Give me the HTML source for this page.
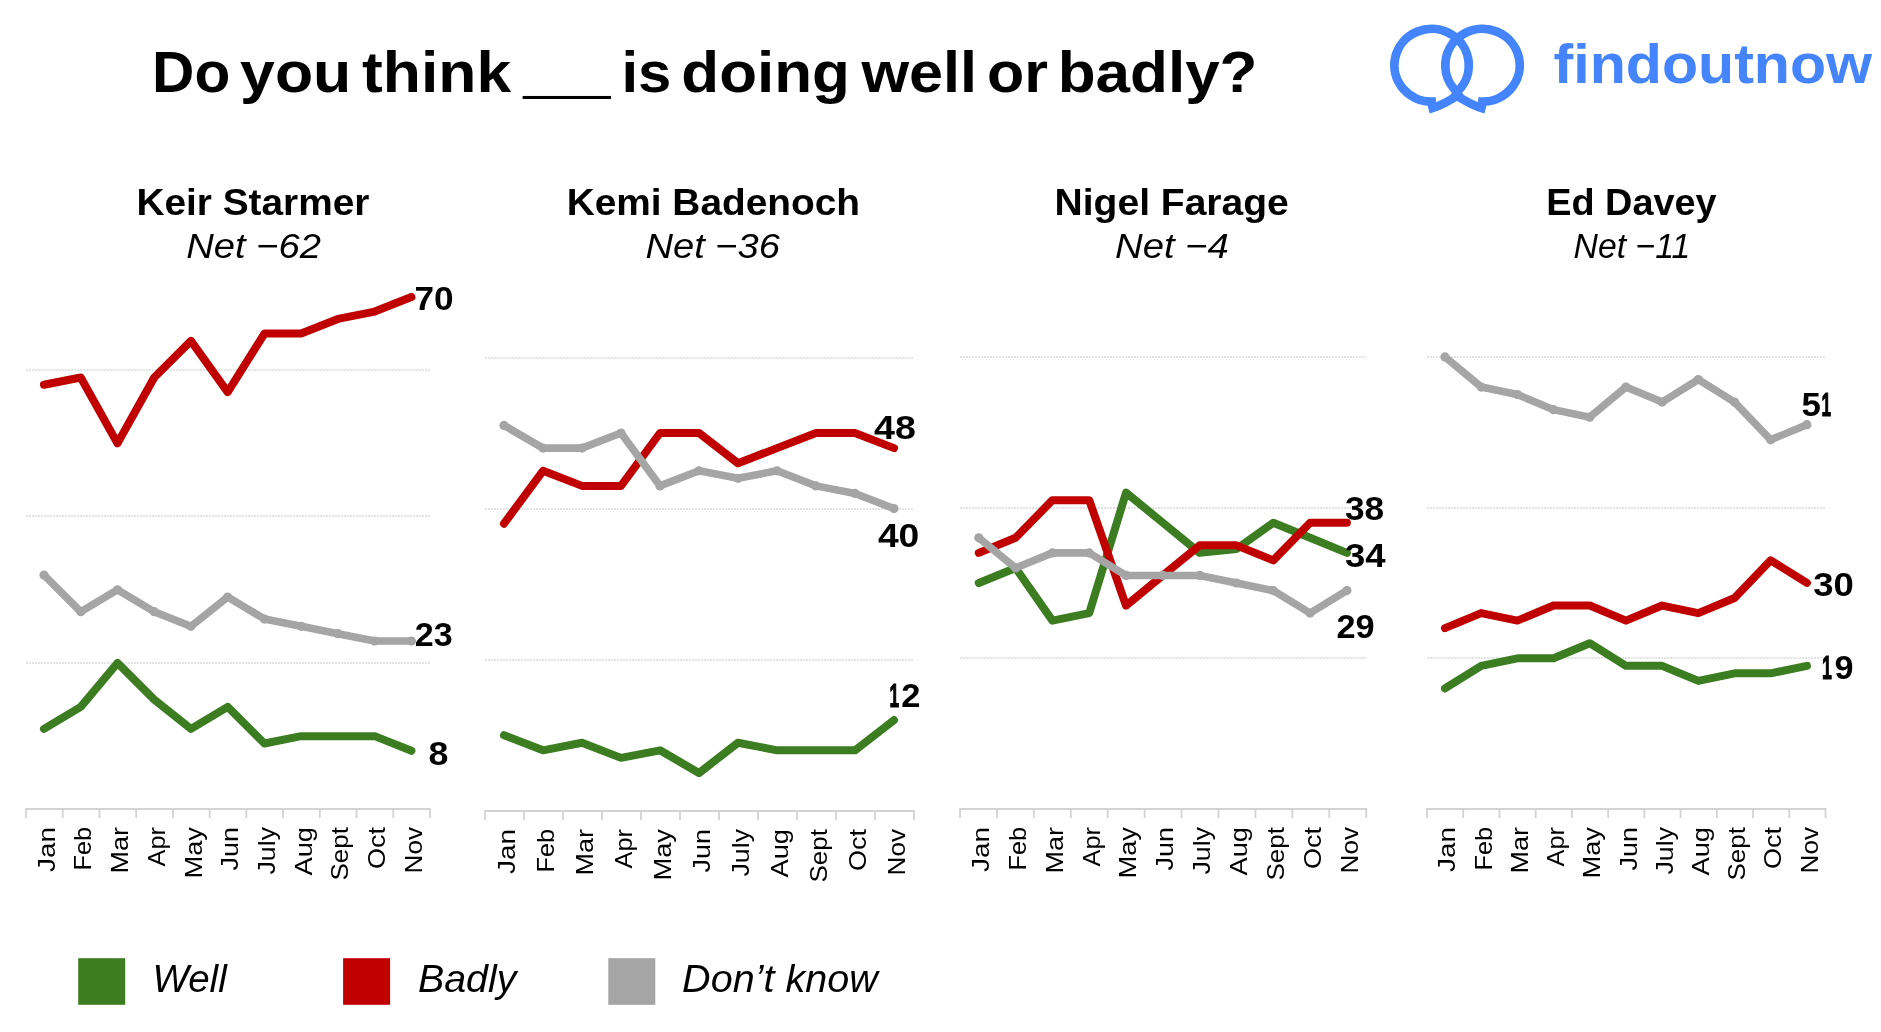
<!DOCTYPE html>
<html><head><meta charset="utf-8"><title>Do you think ___ is doing well or badly?</title>
<style>html,body{margin:0;padding:0;background:#fff;overflow:hidden}svg{display:block;will-change:transform}</style>
</head><body>
<svg width="1881" height="1032" viewBox="0 0 1881 1032" font-family='"Liberation Sans", Arial, sans-serif'><text x="152.10" y="91.70" font-size="57" font-weight="bold" font-style="normal" fill="#000" textLength="78.20" lengthAdjust="spacingAndGlyphs">Do</text>
<text x="240.10" y="91.70" font-size="57" font-weight="bold" font-style="normal" fill="#000" textLength="111.20" lengthAdjust="spacingAndGlyphs">you</text>
<text x="362.00" y="91.70" font-size="57" font-weight="bold" font-style="normal" fill="#000" textLength="149.10" lengthAdjust="spacingAndGlyphs">think</text>
<text x="621.50" y="91.70" font-size="57" font-weight="bold" font-style="normal" fill="#000" textLength="49.90" lengthAdjust="spacingAndGlyphs">is</text>
<text x="681.30" y="91.70" font-size="57" font-weight="bold" font-style="normal" fill="#000" textLength="168.60" lengthAdjust="spacingAndGlyphs">doing</text>
<text x="861.50" y="91.70" font-size="57" font-weight="bold" font-style="normal" fill="#000" textLength="115.60" lengthAdjust="spacingAndGlyphs">well</text>
<text x="987.10" y="91.70" font-size="57" font-weight="bold" font-style="normal" fill="#000" textLength="61.00" lengthAdjust="spacingAndGlyphs">or</text>
<text x="1057.70" y="91.70" font-size="57" font-weight="bold" font-style="normal" fill="#000" textLength="199.80" lengthAdjust="spacingAndGlyphs">badly?</text>
<text x="523.10" y="88.60" font-size="79" font-weight="bold" font-style="normal" fill="#000" textLength="87.50" lengthAdjust="spacingAndGlyphs">____</text>
<path d="M1436.13,101.43 A37.2,36.4 0 1 1 1454.50,93.98" fill="none" stroke="#4485FD" stroke-width="8.8"/>
<path d="M1477.97,101.43 A37.2,36.4 0 1 0 1459.60,93.98" fill="none" stroke="#4485FD" stroke-width="8.8"/>
<path d="M1428.55,109.35 Q1443.75,105.30 1462.00,92.50" fill="none" stroke="#4485FD" stroke-width="8.8"/>
<path d="M1485.55,109.35 Q1470.35,105.30 1452.10,92.50" fill="none" stroke="#4485FD" stroke-width="8.8"/>
<text x="1553.50" y="83.30" font-size="56" font-weight="bold" font-style="normal" fill="#4485FD" textLength="318.60" lengthAdjust="spacingAndGlyphs">findoutnow</text>
<text x="136.40" y="215.20" font-size="37" font-weight="bold" font-style="normal" fill="#000" textLength="233.00" lengthAdjust="spacingAndGlyphs">Keir Starmer</text>
<text x="186.20" y="257.70" font-size="35.5" font-weight="normal" font-style="italic" fill="#000" textLength="134.80" lengthAdjust="spacingAndGlyphs">Net −62</text>
<text x="566.70" y="215.00" font-size="37" font-weight="bold" font-style="normal" fill="#000" textLength="293.30" lengthAdjust="spacingAndGlyphs">Kemi Badenoch</text>
<text x="645.50" y="257.50" font-size="35.5" font-weight="normal" font-style="italic" fill="#000" textLength="134.50" lengthAdjust="spacingAndGlyphs">Net −36</text>
<text x="1054.60" y="214.90" font-size="37" font-weight="bold" font-style="normal" fill="#000" textLength="234.20" lengthAdjust="spacingAndGlyphs">Nigel Farage</text>
<text x="1115.00" y="258.00" font-size="35.5" font-weight="normal" font-style="italic" fill="#000" textLength="113.90" lengthAdjust="spacingAndGlyphs">Net −4</text>
<text x="1546.20" y="214.90" font-size="37" font-weight="bold" font-style="normal" fill="#000" textLength="170.50" lengthAdjust="spacingAndGlyphs">Ed Davey</text>
<text x="1573.60" y="257.80" font-size="35.5" font-weight="normal" font-style="italic" fill="#000" textLength="116.60" lengthAdjust="spacingAndGlyphs">Net −11</text>
<g><line x1="26" y1="370" x2="430" y2="370" stroke="#E3E3E3" stroke-width="2" stroke-dasharray="2 1"/><line x1="26" y1="516" x2="430" y2="516" stroke="#E3E3E3" stroke-width="2" stroke-dasharray="2 1"/><line x1="26" y1="663" x2="430" y2="663" stroke="#E3E3E3" stroke-width="2" stroke-dasharray="2 1"/><line x1="26" y1="809" x2="430" y2="809" stroke="#D3D3D3" stroke-width="2"/><line x1="26.00" y1="808" x2="26.00" y2="818" stroke="#D3D3D3" stroke-width="1.8"/><line x1="62.73" y1="808" x2="62.73" y2="818" stroke="#D3D3D3" stroke-width="1.8"/><line x1="99.45" y1="808" x2="99.45" y2="818" stroke="#D3D3D3" stroke-width="1.8"/><line x1="136.18" y1="808" x2="136.18" y2="818" stroke="#D3D3D3" stroke-width="1.8"/><line x1="172.91" y1="808" x2="172.91" y2="818" stroke="#D3D3D3" stroke-width="1.8"/><line x1="209.64" y1="808" x2="209.64" y2="818" stroke="#D3D3D3" stroke-width="1.8"/><line x1="246.36" y1="808" x2="246.36" y2="818" stroke="#D3D3D3" stroke-width="1.8"/><line x1="283.09" y1="808" x2="283.09" y2="818" stroke="#D3D3D3" stroke-width="1.8"/><line x1="319.82" y1="808" x2="319.82" y2="818" stroke="#D3D3D3" stroke-width="1.8"/><line x1="356.55" y1="808" x2="356.55" y2="818" stroke="#D3D3D3" stroke-width="1.8"/><line x1="393.27" y1="808" x2="393.27" y2="818" stroke="#D3D3D3" stroke-width="1.8"/><line x1="430.00" y1="808" x2="430.00" y2="818" stroke="#D3D3D3" stroke-width="1.8"/><polyline fill="none" stroke="#3C7D22" stroke-width="8" stroke-linejoin="round" stroke-linecap="round" points="44.00,728.83 80.74,706.87 117.48,662.95 154.22,699.55 190.96,728.83 227.70,706.87 264.44,743.47 301.18,736.15 337.92,736.15 374.66,736.15 411.40,750.79"/><polyline fill="none" stroke="#C00000" stroke-width="8" stroke-linejoin="round" stroke-linecap="round" points="44.00,384.79 80.74,377.47 117.48,443.35 154.22,377.47 190.96,340.87 227.70,392.11 264.44,333.55 301.18,333.55 337.92,318.91 374.66,311.59 411.40,296.95"/><polyline fill="none" stroke="#A5A5A5" stroke-width="7.6" stroke-linejoin="round" stroke-linecap="round" points="44.00,575.11 80.74,611.71 117.48,589.75 154.22,611.71 190.96,626.35 227.70,597.07 264.44,619.03 301.18,626.35 337.92,633.67 374.66,640.99 411.40,640.99"/><circle cx="44.00" cy="575.11" r="4.6" fill="#A5A5A5"/><circle cx="80.74" cy="611.71" r="4.6" fill="#A5A5A5"/><circle cx="117.48" cy="589.75" r="4.6" fill="#A5A5A5"/><circle cx="154.22" cy="611.71" r="4.6" fill="#A5A5A5"/><circle cx="190.96" cy="626.35" r="4.6" fill="#A5A5A5"/><circle cx="227.70" cy="597.07" r="4.6" fill="#A5A5A5"/><circle cx="264.44" cy="619.03" r="4.6" fill="#A5A5A5"/><circle cx="301.18" cy="626.35" r="4.6" fill="#A5A5A5"/><circle cx="337.92" cy="633.67" r="4.6" fill="#A5A5A5"/><circle cx="374.66" cy="640.99" r="4.6" fill="#A5A5A5"/><circle cx="411.40" cy="640.99" r="4.6" fill="#A5A5A5"/><text x="0" y="0" transform="translate(54.66,827.00) rotate(-90)" text-anchor="end" font-size="24.5" textLength="45.00" lengthAdjust="spacingAndGlyphs">Jan</text><text x="0" y="0" transform="translate(91.39,827.00) rotate(-90)" text-anchor="end" font-size="24.5" textLength="43.50" lengthAdjust="spacingAndGlyphs">Feb</text><text x="0" y="0" transform="translate(128.12,827.00) rotate(-90)" text-anchor="end" font-size="24.5" textLength="46.50" lengthAdjust="spacingAndGlyphs">Mar</text><text x="0" y="0" transform="translate(164.85,827.00) rotate(-90)" text-anchor="end" font-size="24.5" textLength="39.50" lengthAdjust="spacingAndGlyphs">Apr</text><text x="0" y="0" transform="translate(201.57,827.00) rotate(-90)" text-anchor="end" font-size="24.5" textLength="51.50" lengthAdjust="spacingAndGlyphs">May</text><text x="0" y="0" transform="translate(238.30,827.00) rotate(-90)" text-anchor="end" font-size="24.5" textLength="43.50" lengthAdjust="spacingAndGlyphs">Jun</text><text x="0" y="0" transform="translate(275.03,827.00) rotate(-90)" text-anchor="end" font-size="24.5" textLength="47.50" lengthAdjust="spacingAndGlyphs">July</text><text x="0" y="0" transform="translate(311.75,827.00) rotate(-90)" text-anchor="end" font-size="24.5" textLength="48.50" lengthAdjust="spacingAndGlyphs">Aug</text><text x="0" y="0" transform="translate(348.48,827.00) rotate(-90)" text-anchor="end" font-size="24.5" textLength="53.50" lengthAdjust="spacingAndGlyphs">Sept</text><text x="0" y="0" transform="translate(385.21,827.00) rotate(-90)" text-anchor="end" font-size="24.5" textLength="42.00" lengthAdjust="spacingAndGlyphs">Oct</text><text x="0" y="0" transform="translate(421.94,827.00) rotate(-90)" text-anchor="end" font-size="24.5" textLength="46.50" lengthAdjust="spacingAndGlyphs">Nov</text></g>
<g><line x1="485" y1="358" x2="913" y2="358" stroke="#E3E3E3" stroke-width="2" stroke-dasharray="2 1"/><line x1="485" y1="509" x2="913" y2="509" stroke="#E3E3E3" stroke-width="2" stroke-dasharray="2 1"/><line x1="485" y1="660" x2="913" y2="660" stroke="#E3E3E3" stroke-width="2" stroke-dasharray="2 1"/><line x1="485" y1="811" x2="914" y2="811" stroke="#D3D3D3" stroke-width="2"/><line x1="485.00" y1="810" x2="485.00" y2="820" stroke="#D3D3D3" stroke-width="1.8"/><line x1="524.00" y1="810" x2="524.00" y2="820" stroke="#D3D3D3" stroke-width="1.8"/><line x1="563.00" y1="810" x2="563.00" y2="820" stroke="#D3D3D3" stroke-width="1.8"/><line x1="602.00" y1="810" x2="602.00" y2="820" stroke="#D3D3D3" stroke-width="1.8"/><line x1="641.00" y1="810" x2="641.00" y2="820" stroke="#D3D3D3" stroke-width="1.8"/><line x1="680.00" y1="810" x2="680.00" y2="820" stroke="#D3D3D3" stroke-width="1.8"/><line x1="719.00" y1="810" x2="719.00" y2="820" stroke="#D3D3D3" stroke-width="1.8"/><line x1="758.00" y1="810" x2="758.00" y2="820" stroke="#D3D3D3" stroke-width="1.8"/><line x1="797.00" y1="810" x2="797.00" y2="820" stroke="#D3D3D3" stroke-width="1.8"/><line x1="836.00" y1="810" x2="836.00" y2="820" stroke="#D3D3D3" stroke-width="1.8"/><line x1="875.00" y1="810" x2="875.00" y2="820" stroke="#D3D3D3" stroke-width="1.8"/><line x1="914.00" y1="810" x2="914.00" y2="820" stroke="#D3D3D3" stroke-width="1.8"/><polyline fill="none" stroke="#3C7D22" stroke-width="8" stroke-linejoin="round" stroke-linecap="round" points="504.00,735.20 543.00,750.31 582.00,742.75 621.00,757.87 660.00,750.31 699.00,772.98 738.00,742.75 777.00,750.31 816.00,750.31 855.00,750.31 894.00,720.09"/><polyline fill="none" stroke="#C00000" stroke-width="8" stroke-linejoin="round" stroke-linecap="round" points="504.00,523.66 543.00,470.78 582.00,485.88 621.00,485.88 660.00,433.00 699.00,433.00 738.00,463.22 777.00,448.11 816.00,433.00 855.00,433.00 894.00,448.11"/><polyline fill="none" stroke="#A5A5A5" stroke-width="7.6" stroke-linejoin="round" stroke-linecap="round" points="504.00,425.44 543.00,448.11 582.00,448.11 621.00,433.00 660.00,485.88 699.00,470.78 738.00,478.33 777.00,470.78 816.00,485.88 855.00,493.44 894.00,508.55"/><circle cx="504.00" cy="425.44" r="4.6" fill="#A5A5A5"/><circle cx="543.00" cy="448.11" r="4.6" fill="#A5A5A5"/><circle cx="582.00" cy="448.11" r="4.6" fill="#A5A5A5"/><circle cx="621.00" cy="433.00" r="4.6" fill="#A5A5A5"/><circle cx="660.00" cy="485.88" r="4.6" fill="#A5A5A5"/><circle cx="699.00" cy="470.78" r="4.6" fill="#A5A5A5"/><circle cx="738.00" cy="478.33" r="4.6" fill="#A5A5A5"/><circle cx="777.00" cy="470.78" r="4.6" fill="#A5A5A5"/><circle cx="816.00" cy="485.88" r="4.6" fill="#A5A5A5"/><circle cx="855.00" cy="493.44" r="4.6" fill="#A5A5A5"/><circle cx="894.00" cy="508.55" r="4.6" fill="#A5A5A5"/><text x="0" y="0" transform="translate(514.80,829.00) rotate(-90)" text-anchor="end" font-size="24.5" textLength="45.00" lengthAdjust="spacingAndGlyphs">Jan</text><text x="0" y="0" transform="translate(553.80,829.00) rotate(-90)" text-anchor="end" font-size="24.5" textLength="43.50" lengthAdjust="spacingAndGlyphs">Feb</text><text x="0" y="0" transform="translate(592.80,829.00) rotate(-90)" text-anchor="end" font-size="24.5" textLength="46.50" lengthAdjust="spacingAndGlyphs">Mar</text><text x="0" y="0" transform="translate(631.80,829.00) rotate(-90)" text-anchor="end" font-size="24.5" textLength="39.50" lengthAdjust="spacingAndGlyphs">Apr</text><text x="0" y="0" transform="translate(670.80,829.00) rotate(-90)" text-anchor="end" font-size="24.5" textLength="51.50" lengthAdjust="spacingAndGlyphs">May</text><text x="0" y="0" transform="translate(709.80,829.00) rotate(-90)" text-anchor="end" font-size="24.5" textLength="43.50" lengthAdjust="spacingAndGlyphs">Jun</text><text x="0" y="0" transform="translate(748.80,829.00) rotate(-90)" text-anchor="end" font-size="24.5" textLength="47.50" lengthAdjust="spacingAndGlyphs">July</text><text x="0" y="0" transform="translate(787.80,829.00) rotate(-90)" text-anchor="end" font-size="24.5" textLength="48.50" lengthAdjust="spacingAndGlyphs">Aug</text><text x="0" y="0" transform="translate(826.80,829.00) rotate(-90)" text-anchor="end" font-size="24.5" textLength="53.50" lengthAdjust="spacingAndGlyphs">Sept</text><text x="0" y="0" transform="translate(865.80,829.00) rotate(-90)" text-anchor="end" font-size="24.5" textLength="42.00" lengthAdjust="spacingAndGlyphs">Oct</text><text x="0" y="0" transform="translate(904.80,829.00) rotate(-90)" text-anchor="end" font-size="24.5" textLength="46.50" lengthAdjust="spacingAndGlyphs">Nov</text></g>
<g><line x1="960" y1="357" x2="1366" y2="357" stroke="#E3E3E3" stroke-width="2" stroke-dasharray="2 1"/><line x1="960" y1="508" x2="1366" y2="508" stroke="#E3E3E3" stroke-width="2" stroke-dasharray="2 1"/><line x1="960" y1="658" x2="1366" y2="658" stroke="#E3E3E3" stroke-width="2" stroke-dasharray="2 1"/><line x1="960" y1="809" x2="1366.2" y2="809" stroke="#D3D3D3" stroke-width="2"/><line x1="960.00" y1="808" x2="960.00" y2="818" stroke="#D3D3D3" stroke-width="1.8"/><line x1="996.93" y1="808" x2="996.93" y2="818" stroke="#D3D3D3" stroke-width="1.8"/><line x1="1033.85" y1="808" x2="1033.85" y2="818" stroke="#D3D3D3" stroke-width="1.8"/><line x1="1070.78" y1="808" x2="1070.78" y2="818" stroke="#D3D3D3" stroke-width="1.8"/><line x1="1107.71" y1="808" x2="1107.71" y2="818" stroke="#D3D3D3" stroke-width="1.8"/><line x1="1144.64" y1="808" x2="1144.64" y2="818" stroke="#D3D3D3" stroke-width="1.8"/><line x1="1181.56" y1="808" x2="1181.56" y2="818" stroke="#D3D3D3" stroke-width="1.8"/><line x1="1218.49" y1="808" x2="1218.49" y2="818" stroke="#D3D3D3" stroke-width="1.8"/><line x1="1255.42" y1="808" x2="1255.42" y2="818" stroke="#D3D3D3" stroke-width="1.8"/><line x1="1292.35" y1="808" x2="1292.35" y2="818" stroke="#D3D3D3" stroke-width="1.8"/><line x1="1329.27" y1="808" x2="1329.27" y2="818" stroke="#D3D3D3" stroke-width="1.8"/><line x1="1366.20" y1="808" x2="1366.20" y2="818" stroke="#D3D3D3" stroke-width="1.8"/><polyline fill="none" stroke="#3C7D22" stroke-width="8" stroke-linejoin="round" stroke-linecap="round" points="978.80,583.00 1015.61,567.94 1052.42,620.65 1089.23,613.12 1126.04,492.64 1162.85,522.76 1199.66,552.88 1236.47,549.12 1273.28,522.76 1310.09,537.82 1346.90,552.88"/><polyline fill="none" stroke="#C00000" stroke-width="8" stroke-linejoin="round" stroke-linecap="round" points="978.80,552.88 1015.61,537.82 1052.42,500.17 1089.23,500.17 1126.04,605.59 1162.85,575.47 1199.66,545.35 1236.47,545.35 1273.28,560.41 1310.09,522.76 1346.90,522.76"/><polyline fill="none" stroke="#A5A5A5" stroke-width="7.6" stroke-linejoin="round" stroke-linecap="round" points="978.80,537.82 1015.61,567.94 1052.42,552.88 1089.23,552.88 1126.04,575.47 1162.85,575.47 1199.66,575.47 1236.47,583.00 1273.28,590.53 1310.09,613.12 1346.90,590.53"/><circle cx="978.80" cy="537.82" r="4.6" fill="#A5A5A5"/><circle cx="1015.61" cy="567.94" r="4.6" fill="#A5A5A5"/><circle cx="1052.42" cy="552.88" r="4.6" fill="#A5A5A5"/><circle cx="1089.23" cy="552.88" r="4.6" fill="#A5A5A5"/><circle cx="1126.04" cy="575.47" r="4.6" fill="#A5A5A5"/><circle cx="1162.85" cy="575.47" r="4.6" fill="#A5A5A5"/><circle cx="1199.66" cy="575.47" r="4.6" fill="#A5A5A5"/><circle cx="1236.47" cy="583.00" r="4.6" fill="#A5A5A5"/><circle cx="1273.28" cy="590.53" r="4.6" fill="#A5A5A5"/><circle cx="1310.09" cy="613.12" r="4.6" fill="#A5A5A5"/><circle cx="1346.90" cy="590.53" r="4.6" fill="#A5A5A5"/><text x="0" y="0" transform="translate(988.76,827.00) rotate(-90)" text-anchor="end" font-size="24.5" textLength="45.00" lengthAdjust="spacingAndGlyphs">Jan</text><text x="0" y="0" transform="translate(1025.69,827.00) rotate(-90)" text-anchor="end" font-size="24.5" textLength="43.50" lengthAdjust="spacingAndGlyphs">Feb</text><text x="0" y="0" transform="translate(1062.62,827.00) rotate(-90)" text-anchor="end" font-size="24.5" textLength="46.50" lengthAdjust="spacingAndGlyphs">Mar</text><text x="0" y="0" transform="translate(1099.55,827.00) rotate(-90)" text-anchor="end" font-size="24.5" textLength="39.50" lengthAdjust="spacingAndGlyphs">Apr</text><text x="0" y="0" transform="translate(1136.47,827.00) rotate(-90)" text-anchor="end" font-size="24.5" textLength="51.50" lengthAdjust="spacingAndGlyphs">May</text><text x="0" y="0" transform="translate(1173.40,827.00) rotate(-90)" text-anchor="end" font-size="24.5" textLength="43.50" lengthAdjust="spacingAndGlyphs">Jun</text><text x="0" y="0" transform="translate(1210.33,827.00) rotate(-90)" text-anchor="end" font-size="24.5" textLength="47.50" lengthAdjust="spacingAndGlyphs">July</text><text x="0" y="0" transform="translate(1247.25,827.00) rotate(-90)" text-anchor="end" font-size="24.5" textLength="48.50" lengthAdjust="spacingAndGlyphs">Aug</text><text x="0" y="0" transform="translate(1284.18,827.00) rotate(-90)" text-anchor="end" font-size="24.5" textLength="53.50" lengthAdjust="spacingAndGlyphs">Sept</text><text x="0" y="0" transform="translate(1321.11,827.00) rotate(-90)" text-anchor="end" font-size="24.5" textLength="42.00" lengthAdjust="spacingAndGlyphs">Oct</text><text x="0" y="0" transform="translate(1358.04,827.00) rotate(-90)" text-anchor="end" font-size="24.5" textLength="46.50" lengthAdjust="spacingAndGlyphs">Nov</text></g>
<g><line x1="1427" y1="357" x2="1825" y2="357" stroke="#E3E3E3" stroke-width="2" stroke-dasharray="2 1"/><line x1="1427" y1="508" x2="1825" y2="508" stroke="#E3E3E3" stroke-width="2" stroke-dasharray="2 1"/><line x1="1427" y1="658" x2="1825" y2="658" stroke="#E3E3E3" stroke-width="2" stroke-dasharray="2 1"/><line x1="1427" y1="809" x2="1825.5" y2="809" stroke="#D3D3D3" stroke-width="2"/><line x1="1427.00" y1="808" x2="1427.00" y2="818" stroke="#D3D3D3" stroke-width="1.8"/><line x1="1463.23" y1="808" x2="1463.23" y2="818" stroke="#D3D3D3" stroke-width="1.8"/><line x1="1499.45" y1="808" x2="1499.45" y2="818" stroke="#D3D3D3" stroke-width="1.8"/><line x1="1535.68" y1="808" x2="1535.68" y2="818" stroke="#D3D3D3" stroke-width="1.8"/><line x1="1571.91" y1="808" x2="1571.91" y2="818" stroke="#D3D3D3" stroke-width="1.8"/><line x1="1608.14" y1="808" x2="1608.14" y2="818" stroke="#D3D3D3" stroke-width="1.8"/><line x1="1644.36" y1="808" x2="1644.36" y2="818" stroke="#D3D3D3" stroke-width="1.8"/><line x1="1680.59" y1="808" x2="1680.59" y2="818" stroke="#D3D3D3" stroke-width="1.8"/><line x1="1716.82" y1="808" x2="1716.82" y2="818" stroke="#D3D3D3" stroke-width="1.8"/><line x1="1753.05" y1="808" x2="1753.05" y2="818" stroke="#D3D3D3" stroke-width="1.8"/><line x1="1789.27" y1="808" x2="1789.27" y2="818" stroke="#D3D3D3" stroke-width="1.8"/><line x1="1825.50" y1="808" x2="1825.50" y2="818" stroke="#D3D3D3" stroke-width="1.8"/><polyline fill="none" stroke="#3C7D22" stroke-width="8" stroke-linejoin="round" stroke-linecap="round" points="1445.00,688.44 1481.19,665.84 1517.38,658.30 1553.57,658.30 1589.76,643.23 1625.95,665.84 1662.14,665.84 1698.33,680.90 1734.52,673.37 1770.71,673.37 1806.90,665.84"/><polyline fill="none" stroke="#C00000" stroke-width="8" stroke-linejoin="round" stroke-linecap="round" points="1445.00,628.16 1481.19,613.09 1517.38,620.62 1553.57,605.56 1589.76,605.56 1625.95,620.62 1662.14,605.56 1698.33,613.09 1734.52,598.02 1770.71,560.35 1806.90,582.95"/><polyline fill="none" stroke="#A5A5A5" stroke-width="7.6" stroke-linejoin="round" stroke-linecap="round" points="1445.00,356.90 1481.19,387.04 1517.38,394.57 1553.57,409.64 1589.76,417.18 1625.95,387.04 1662.14,402.11 1698.33,379.50 1734.52,402.11 1770.71,439.78 1806.90,424.71"/><circle cx="1445.00" cy="356.90" r="4.6" fill="#A5A5A5"/><circle cx="1481.19" cy="387.04" r="4.6" fill="#A5A5A5"/><circle cx="1517.38" cy="394.57" r="4.6" fill="#A5A5A5"/><circle cx="1553.57" cy="409.64" r="4.6" fill="#A5A5A5"/><circle cx="1589.76" cy="417.18" r="4.6" fill="#A5A5A5"/><circle cx="1625.95" cy="387.04" r="4.6" fill="#A5A5A5"/><circle cx="1662.14" cy="402.11" r="4.6" fill="#A5A5A5"/><circle cx="1698.33" cy="379.50" r="4.6" fill="#A5A5A5"/><circle cx="1734.52" cy="402.11" r="4.6" fill="#A5A5A5"/><circle cx="1770.71" cy="439.78" r="4.6" fill="#A5A5A5"/><circle cx="1806.90" cy="424.71" r="4.6" fill="#A5A5A5"/><text x="0" y="0" transform="translate(1455.41,827.00) rotate(-90)" text-anchor="end" font-size="24.5" textLength="45.00" lengthAdjust="spacingAndGlyphs">Jan</text><text x="0" y="0" transform="translate(1491.64,827.00) rotate(-90)" text-anchor="end" font-size="24.5" textLength="43.50" lengthAdjust="spacingAndGlyphs">Feb</text><text x="0" y="0" transform="translate(1527.87,827.00) rotate(-90)" text-anchor="end" font-size="24.5" textLength="46.50" lengthAdjust="spacingAndGlyphs">Mar</text><text x="0" y="0" transform="translate(1564.10,827.00) rotate(-90)" text-anchor="end" font-size="24.5" textLength="39.50" lengthAdjust="spacingAndGlyphs">Apr</text><text x="0" y="0" transform="translate(1600.32,827.00) rotate(-90)" text-anchor="end" font-size="24.5" textLength="51.50" lengthAdjust="spacingAndGlyphs">May</text><text x="0" y="0" transform="translate(1636.55,827.00) rotate(-90)" text-anchor="end" font-size="24.5" textLength="43.50" lengthAdjust="spacingAndGlyphs">Jun</text><text x="0" y="0" transform="translate(1672.78,827.00) rotate(-90)" text-anchor="end" font-size="24.5" textLength="47.50" lengthAdjust="spacingAndGlyphs">July</text><text x="0" y="0" transform="translate(1709.00,827.00) rotate(-90)" text-anchor="end" font-size="24.5" textLength="48.50" lengthAdjust="spacingAndGlyphs">Aug</text><text x="0" y="0" transform="translate(1745.23,827.00) rotate(-90)" text-anchor="end" font-size="24.5" textLength="53.50" lengthAdjust="spacingAndGlyphs">Sept</text><text x="0" y="0" transform="translate(1781.46,827.00) rotate(-90)" text-anchor="end" font-size="24.5" textLength="42.00" lengthAdjust="spacingAndGlyphs">Oct</text><text x="0" y="0" transform="translate(1817.69,827.00) rotate(-90)" text-anchor="end" font-size="24.5" textLength="46.50" lengthAdjust="spacingAndGlyphs">Nov</text></g>
<text x="414.40" y="310.00" font-size="33.8" font-weight="bold" font-style="normal" fill="#000" textLength="39.10" lengthAdjust="spacingAndGlyphs">70</text>
<text x="414.70" y="645.90" font-size="33.8" font-weight="bold" font-style="normal" fill="#000" textLength="37.90" lengthAdjust="spacingAndGlyphs">23</text>
<text x="428.60" y="764.90" font-size="33.8" font-weight="bold" font-style="normal" fill="#000" textLength="19.90" lengthAdjust="spacingAndGlyphs">8</text>
<text x="874.10" y="439.10" font-size="33.8" font-weight="bold" font-style="normal" fill="#000" textLength="41.80" lengthAdjust="spacingAndGlyphs">48</text>
<text x="877.90" y="547.30" font-size="33.8" font-weight="bold" font-style="normal" fill="#000" textLength="41.40" lengthAdjust="spacingAndGlyphs">40</text>
<text y="707.00" font-size="33.8" font-weight="bold" fill="#000"><tspan x="889.60" textLength="9.60" lengthAdjust="spacingAndGlyphs" stroke="#000" stroke-width="1.2" stroke-linejoin="miter">1</tspan><tspan x="901.20" textLength="19.20" lengthAdjust="spacingAndGlyphs">2</tspan></text>
<text x="1345.00" y="520.30" font-size="33.8" font-weight="bold" font-style="normal" fill="#000" textLength="39.20" lengthAdjust="spacingAndGlyphs">38</text>
<text x="1344.90" y="567.20" font-size="33.8" font-weight="bold" font-style="normal" fill="#000" textLength="40.60" lengthAdjust="spacingAndGlyphs">34</text>
<text x="1336.40" y="637.70" font-size="33.8" font-weight="bold" font-style="normal" fill="#000" textLength="38.10" lengthAdjust="spacingAndGlyphs">29</text>
<text y="415.80" font-size="33.8" font-weight="bold" fill="#000"><tspan x="1801.60" textLength="19.40" lengthAdjust="spacingAndGlyphs">5</tspan><tspan x="1821.40" textLength="9.60" lengthAdjust="spacingAndGlyphs" stroke="#000" stroke-width="1.2" stroke-linejoin="miter">1</tspan></text>
<text x="1813.20" y="595.90" font-size="33.8" font-weight="bold" font-style="normal" fill="#000" textLength="40.60" lengthAdjust="spacingAndGlyphs">30</text>
<text y="679.00" font-size="33.8" font-weight="bold" fill="#000"><tspan x="1822.00" textLength="9.80" lengthAdjust="spacingAndGlyphs" stroke="#000" stroke-width="1.2" stroke-linejoin="miter">1</tspan><tspan x="1834.60" textLength="19.00" lengthAdjust="spacingAndGlyphs">9</tspan></text>
<rect x="78.2" y="958.2" width="47" height="46.6" fill="#3C7D22"/>
<rect x="343.1" y="958.2" width="47" height="46.6" fill="#C00000"/>
<rect x="608.3" y="958.2" width="47" height="46.6" fill="#A5A5A5"/>
<text x="152.50" y="992.40" font-size="38" font-weight="normal" font-style="italic" fill="#000" textLength="74.20" lengthAdjust="spacingAndGlyphs">Well</text>
<text x="418.00" y="992.40" font-size="38" font-weight="normal" font-style="italic" fill="#000" textLength="98.40" lengthAdjust="spacingAndGlyphs">Badly</text>
<text x="682.10" y="991.80" font-size="38" font-weight="normal" font-style="italic" fill="#000" textLength="195.60" lengthAdjust="spacingAndGlyphs">Don’t know</text></svg>
</body></html>
